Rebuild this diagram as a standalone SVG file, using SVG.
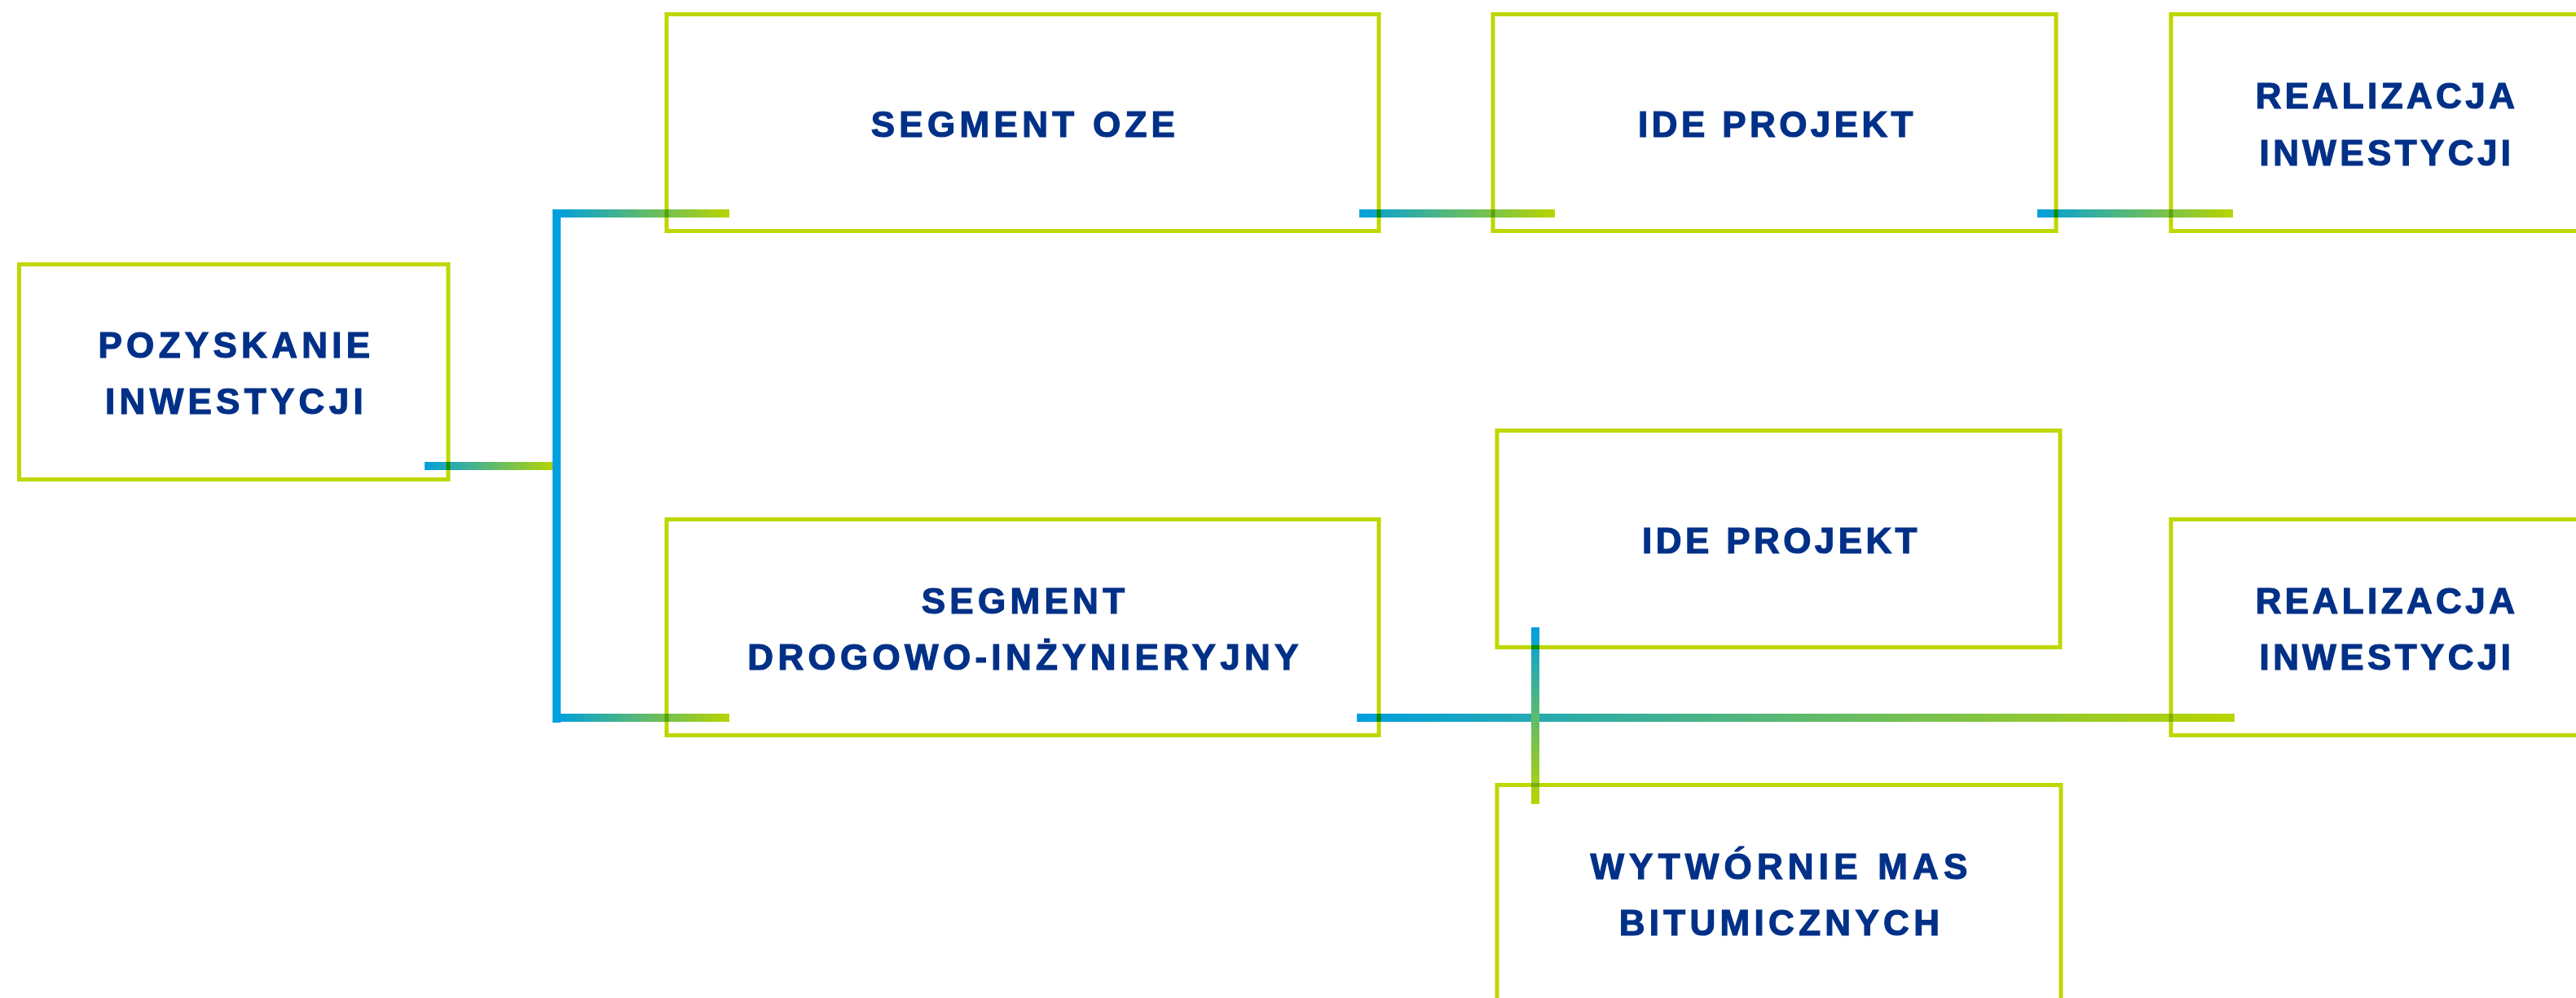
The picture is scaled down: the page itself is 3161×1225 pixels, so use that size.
<svg xmlns="http://www.w3.org/2000/svg" width="3161" height="1225" viewBox="0 0 3161 1225">
<defs>
<linearGradient id="gh" x1="0" y1="0" x2="1" y2="0">
<stop offset="0" stop-color="#009FDF"/>
<stop offset="1" stop-color="#B9D400"/>
</linearGradient>
<linearGradient id="gv" x1="0" y1="0" x2="0" y2="1">
<stop offset="0" stop-color="#009FDF"/>
<stop offset="1" stop-color="#B9D400"/>
</linearGradient>
<style>
.box{fill:#FFFFFF;stroke:#BFD700;stroke-width:5}
.t{font-family:"Liberation Sans",Arial,sans-serif;font-weight:bold;font-size:44px;fill:#003087;stroke:#003087;stroke-width:1.2px;letter-spacing:5.3px;text-anchor:middle}
.n{letter-spacing:4.4px}
.w{letter-spacing:6.2px}
.conn{mix-blend-mode:multiply}
</style>
</defs>
<rect x="0" y="0" width="3161" height="1225" fill="#FFFFFF"/>
<g id="n-pozyskanie"><rect class="box" x="23.5" y="324.5" width="526.5" height="264"/><text class="t" x="290" y="439">POZYSKANIE</text><text class="t" x="290" y="508">INWESTYCJI</text></g>
<g id="n-oze"><rect class="box" x="818" y="17.5" width="874" height="266"/><text class="t" x="1258" y="168">SEGMENT OZE</text></g>
<g id="n-ide-top"><rect class="box" x="1832" y="17.5" width="691" height="266"/><text class="t n" x="2181" y="168">IDE PROJEKT</text></g>
<g id="n-real-top"><rect class="box" x="2664" y="17.5" width="528" height="266"/><text class="t n" x="2929" y="133">REALIZACJA</text><text class="t n" x="2929" y="203">INWESTYCJI</text></g>
<g id="n-drog"><rect class="box" x="818" y="637.5" width="874" height="265"/><text class="t" x="1258" y="753">SEGMENT</text><text class="t" x="1258" y="822">DROGOWO-INŻYNIERYJNY</text></g>
<g id="n-ide-bot"><rect class="box" x="1837" y="528.5" width="691" height="266"/><text class="t n" x="2186" y="679">IDE PROJEKT</text></g>
<g id="n-real-bot"><rect class="box" x="2664" y="637.5" width="528" height="265"/><text class="t n" x="2929" y="753">REALIZACJA</text><text class="t n" x="2929" y="822">INWESTYCJI</text></g>
<g id="n-wyt"><rect class="box" x="1837" y="963.5" width="692" height="266"/><text class="t w" x="2186" y="1079">WYTWÓRNIE MAS</text><text class="t" x="2186" y="1148">BITUMICZNYCH</text></g>
<g id="connectors" class="conn">
<rect x="521" y="567" width="162" height="10" fill="url(#gh)"/>
<rect x="678" y="257" width="10" height="630" fill="#009FDF"/>
<rect x="683" y="257" width="212" height="10" fill="url(#gh)"/>
<rect x="683" y="876" width="212" height="10" fill="url(#gh)"/>
<rect x="1668" y="257" width="240" height="10" fill="url(#gh)"/>
<rect x="2500" y="257" width="240" height="10" fill="url(#gh)"/>
<rect x="1665" y="876" width="1077" height="10" fill="url(#gh)"/>
<rect x="1879" y="770" width="10" height="217" fill="url(#gv)"/>
</g>
</svg>
